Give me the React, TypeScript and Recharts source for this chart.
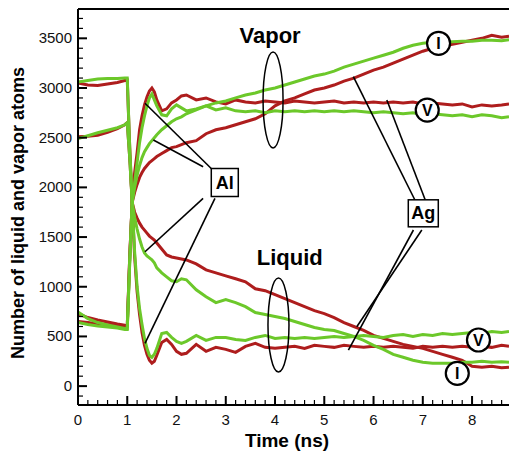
import { Line, LineChart, ReferenceDot, ReferenceLine, XAxis, YAxis } from "recharts";

// time in ns
const TIME = [
  0, 0.2, 0.4, 0.6, 0.8, 0.95, 1.0, 1.05, 1.1, 1.15, 1.2, 1.25, 1.3, 1.35, 1.4, 1.45, 1.5, 1.55, 1.6,
  1.7, 1.8, 1.9, 2.0, 2.1, 2.2, 2.4, 2.6, 2.8, 3.0, 3.2, 3.4, 3.6, 3.8, 4.0, 4.2, 4.4, 4.6, 4.8, 5.0,
  5.2, 5.4, 5.6, 5.8, 6.0, 6.2, 6.4, 6.6, 6.8, 7.0, 7.2, 7.4, 7.6, 7.8, 8.0, 8.2, 8.4, 8.6, 8.75,
];

// Ag (red)
const AG_VAPOR_V = [
  730, 690, 665, 645, 625, 612, 610, 1300, 1850, 2150, 2350, 2580, 2720, 2830, 2910, 2970, 3000, 2960, 2880,
  2770, 2790, 2850, 2880, 2920, 2930, 2880, 2900, 2860, 2840, 2880, 2860, 2850, 2870, 2860, 2850, 2870, 2860,
  2850, 2860, 2870, 2850, 2860, 2850, 2860, 2850, 2860, 2850, 2860, 2840, 2850, 2840, 2830, 2840, 2810, 2830,
  2820, 2830, 2840,
];
const AG_VAPOR_I = [
  650, 640, 625, 615, 605, 600, 600, 1300, 1850, 1950, 2030, 2100, 2150, 2190, 2220, 2250, 2270, 2290, 2310,
  2340, 2370, 2400, 2410, 2430, 2450, 2470, 2540, 2580, 2600, 2630, 2660, 2690, 2740, 2820, 2870, 2900, 2940,
  2980, 3000, 3030, 3070, 3100, 3140, 3180, 3210, 3250, 3290, 3330, 3370, 3400, 3420, 3440, 3460, 3480, 3500,
  3530, 3510, 3520,
];
const AG_LIQUID_I = [
  2510, 2515, 2525, 2555, 2590, 2630, 2650, 2300, 1850, 1750, 1690, 1640, 1600, 1570, 1540, 1510, 1490, 1470,
  1440, 1380, 1320, 1300, 1290, 1280, 1270, 1230, 1170, 1140, 1110, 1080, 1050, 980, 960, 920, 880, 840, 800,
  760, 730, 690, 640, 600, 560, 510, 480, 450, 420, 400, 380, 350, 320, 290, 260, 200, 190, 200, 185, 190,
];
const AG_LIQUID_V = [
  3050, 3030, 3025, 3040, 3055, 3075, 3080, 2400, 1850, 1300, 950, 720, 540, 410, 320, 260, 230, 250, 310,
  440, 470, 420, 350, 320, 330, 420, 350, 390, 370, 340, 400, 430, 390, 380, 390, 400, 380, 410, 400, 390,
  410, 400, 390, 400, 390, 400, 390, 380, 400, 390, 400, 390, 400, 390, 400, 390, 410, 400,
];

// Al (green)
const AL_VAPOR_V = [
  745, 680, 640, 615, 595, 580, 580, 1250, 1850, 2050, 2250, 2450, 2600, 2720, 2820, 2900, 2940, 2880, 2820,
  2730, 2720, 2790, 2830, 2800, 2770, 2790, 2820, 2780, 2800, 2770, 2760, 2770, 2750, 2770, 2760, 2770, 2760,
  2770, 2760, 2770, 2760, 2770, 2760, 2750, 2760, 2750, 2740, 2750, 2730, 2740, 2730, 2720, 2730, 2710, 2730,
  2720, 2700, 2710,
];
const AL_VAPOR_I = [
  640, 620, 605, 595, 585, 570, 570, 1250, 1850, 2000, 2120, 2220, 2300, 2360, 2400, 2440, 2470, 2500, 2530,
  2580, 2620, 2660, 2690, 2710, 2740, 2780, 2820, 2850, 2870, 2900, 2930, 2950, 2980, 3000, 3030, 3060, 3090,
  3120, 3140, 3170, 3210, 3240, 3270, 3300, 3330, 3360, 3400, 3430, 3450, 3460, 3460, 3465, 3470, 3470, 3480,
  3480, 3475, 3485,
];
const AL_LIQUID_I = [
  2490, 2520, 2550, 2575, 2600, 2630, 2650, 2300, 1850, 1700, 1580, 1480, 1400, 1340, 1310, 1290, 1270, 1240,
  1190, 1140, 1100, 1060, 1050, 1080, 1070, 970, 900, 840, 870, 840, 800, 740, 720, 700, 680, 650, 620, 590,
  570, 560, 530, 500, 460, 410, 370, 320, 290, 260, 240, 230, 230, 230, 240, 240, 250, 240, 245, 240,
];
const AL_LIQUID_V = [
  3060, 3075, 3090, 3095, 3095, 3100, 3100, 2400, 1850, 1350, 1000, 780, 620, 480, 380, 310, 290, 320, 380,
  530, 540, 490, 450, 430, 450, 510, 460, 490, 490, 470, 460, 490, 510, 480, 490, 480, 490, 480, 490, 500,
  490, 500, 510, 500, 490, 510, 520, 500, 520, 510, 530, 520, 530, 540, 530, 550, 540, 550,
];

const X_LABELS = [0, 1, 2, 3, 4, 5, 6, 7, 8];
const Y_LABELS = [0, 500, 1000, 1500, 2000, 2500, 3000, 3500];

const RED = "#AE1D1D";
const GREEN = "#6CC82A";
const FONT = "'Liberation Sans', Arial, Helvetica, sans-serif";

const X_MAX = 8.75;
const Y_MIN = -190;
const Y_MAX = 3795;

const data = TIME.map((t, i) => ({
  t,
  agVaporV: AG_VAPOR_V[i],
  agVaporI: AG_VAPOR_I[i],
  agLiquidI: AG_LIQUID_I[i],
  agLiquidV: AG_LIQUID_V[i],
  alVaporV: AL_VAPOR_V[i],
  alVaporI: AL_VAPOR_I[i],
  alLiquidI: AL_LIQUID_I[i],
  alLiquidV: AL_LIQUID_V[i],
}));

// minor ticks every 0.2 ns / 100 atoms
const xTicks = Array.from({ length: 44 }, (_, i) => Math.round(i * 2) / 10);
const yTicks = Array.from({ length: 39 }, (_, i) => -100 + i * 100);

// leader lines [t1, v1, t2, v2]
const AL_LEADERS = [
  [2.71, 2187, 1.36, 2846],
  [2.54, 2208, 1.53, 2477],
  [2.54, 1890, 1.36, 1352],
  [2.78, 1890, 1.36, 431],
];
const AG_LEADERS = [
  [6.84, 1873, 5.59, 3114],
  [7.05, 1873, 6.27, 2879],
  [6.81, 1571, 5.49, 363],
  [6.98, 1571, 5.66, 598],
];

const XTick = (props: any) => {
  const { x, y, payload } = props;
  const v = payload.value;
  const major = Math.abs(v - Math.round(v)) < 1e-6;
  return (
    <g>
      <line x1={x} x2={x} y1={y} y2={y - (major ? 9 : 5)} stroke="#000" strokeWidth={major ? 2 : 1.2} />
      {major && X_LABELS.includes(Math.round(v)) && (
        <text x={x} y={y + 20} textAnchor="middle" fontFamily={FONT} fontSize={15} fill="#111">
          {Math.round(v)}
        </text>
      )}
    </g>
  );
};

const YTick = (props: any) => {
  const { x, y, payload } = props;
  const v = payload.value;
  const major = v % 500 === 0;
  return (
    <g>
      <line x1={x} x2={x + (major ? 9 : 5)} y1={y} y2={y} stroke="#000" strokeWidth={major ? 2 : 1.2} />
      {Y_LABELS.includes(v) && (
        <text x={x - 6} y={y} dy={5} textAnchor="end" fontFamily={FONT} fontSize={15} fill="#111">
          {v}
        </text>
      )}
    </g>
  );
};

const textShape = (label: string, size: number) => (p: any) => (
  <text x={p.cx} y={p.cy} dy={size * 0.35} textAnchor="middle" fontFamily={FONT} fontWeight="bold" fontSize={size} fill="#000">
    {label}
  </text>
);

const ellipseShape = (rx: number, ry: number) => (p: any) => (
  <ellipse cx={p.cx} cy={p.cy} rx={rx} ry={ry} fill="none" stroke="#000" strokeWidth={1.5} />
);

const boxShape = (label: string, w: number, h: number) => (p: any) => (
  <g>
    <rect x={p.cx - w / 2} y={p.cy - h / 2} width={w} height={h} fill="#fff" stroke="#000" strokeWidth={1.5} />
    <text x={p.cx} y={p.cy} dy={6} textAnchor="middle" fontFamily={FONT} fontWeight="bold" fontSize={18} fill="#000">
      {label}
    </text>
  </g>
);

const circleShape = (label: string) => (p: any) => (
  <g>
    <circle cx={p.cx} cy={p.cy} r={11.5} fill="#fff" stroke="#000" strokeWidth={2.2} />
    <text x={p.cx} y={p.cy} dy={5.5} textAnchor="middle" fontFamily={FONT} fontWeight="bold" fontSize={16} fill="#000">
      {label}
    </text>
  </g>
);

export default function App() {
  return (
    <div style={{ position: "absolute", left: 0, top: 0, background: "#fff" }}>
      <LineChart width={509} height={458} data={data} margin={{ top: 9, right: 0, bottom: 0, left: 0 }}>
        <XAxis
          dataKey="t"
          type="number"
          domain={[0, X_MAX]}
          allowDataOverflow
          ticks={xTicks}
          interval={0}
          tick={<XTick />}
          tickLine={false}
          tickSize={0}
          tickMargin={0}
          height={53}
          axisLine={{ stroke: "#000", strokeWidth: 2 }}
        />
        <YAxis
          type="number"
          domain={[Y_MIN, Y_MAX]}
          allowDataOverflow
          ticks={yTicks}
          interval={0}
          tick={<YTick />}
          tickLine={false}
          tickSize={0}
          tickMargin={0}
          width={78}
          axisLine={{ stroke: "#000", strokeWidth: 2 }}
        />
        <ReferenceLine y={Y_MAX} stroke="#000" strokeWidth={2} />

        <Line dataKey="agVaporV" stroke={RED} strokeWidth={3} dot={false} isAnimationActive={false} />
        <Line dataKey="agVaporI" stroke={RED} strokeWidth={3} dot={false} isAnimationActive={false} />
        <Line dataKey="agLiquidI" stroke={RED} strokeWidth={3} dot={false} isAnimationActive={false} />
        <Line dataKey="agLiquidV" stroke={RED} strokeWidth={3} dot={false} isAnimationActive={false} />
        <Line dataKey="alVaporV" stroke={GREEN} strokeWidth={3} dot={false} isAnimationActive={false} />
        <Line dataKey="alVaporI" stroke={GREEN} strokeWidth={3} dot={false} isAnimationActive={false} />
        <Line dataKey="alLiquidI" stroke={GREEN} strokeWidth={3} dot={false} isAnimationActive={false} />
        <Line dataKey="alLiquidV" stroke={GREEN} strokeWidth={3} dot={false} isAnimationActive={false} />

        {[...AL_LEADERS, ...AG_LEADERS].map(([t1, v1, t2, v2], i) => (
          <ReferenceLine
            key={`lead-${i}`}
            segment={[
              { x: t1, y: v1 },
              { x: t2, y: v2 },
            ]}
            stroke="#000"
            strokeWidth={1.6}
          />
        ))}

        <ReferenceDot x={3.9} y={3533} r={1} shape={textShape("Vapor", 22)} />
        <ReferenceDot x={3.96} y={2879} r={1} shape={ellipseShape(10, 48)} />
        <ReferenceDot x={4.3} y={1299} r={1} shape={textShape("Liquid", 22)} />
        <ReferenceDot x={4.07} y={615} r={1} shape={ellipseShape(10.5, 47)} />
        <ReferenceDot x={2.98} y={2049} r={1} shape={boxShape("Al", 27, 28)} />
        <ReferenceDot x={7.01} y={1739} r={1} shape={boxShape("Ag", 30, 27)} />
        <ReferenceDot x={7.32} y={3450} r={1} shape={circleShape("I")} />
        <ReferenceDot x={7.09} y={2778} r={1} shape={circleShape("V")} />
        <ReferenceDot x={8.13} y={464} r={1} shape={circleShape("V")} />
        <ReferenceDot x={7.7} y={129} r={1} shape={circleShape("I")} />
      </LineChart>
      <svg width={509} height={458} style={{ position: "absolute", left: 0, top: 0, pointerEvents: "none" }}>
        <text
          transform="translate(24 213) rotate(-90)"
          textAnchor="middle"
          fontFamily={FONT}
          fontWeight="bold"
          fontSize={18}
          fill="#000"
        >
          Number of liquid and vapor atoms
        </text>
        <text x={287} y={447} textAnchor="middle" fontFamily={FONT} fontWeight="bold" fontSize={19} fill="#000">
          Time (ns)
        </text>
      </svg>
    </div>
  );
}
